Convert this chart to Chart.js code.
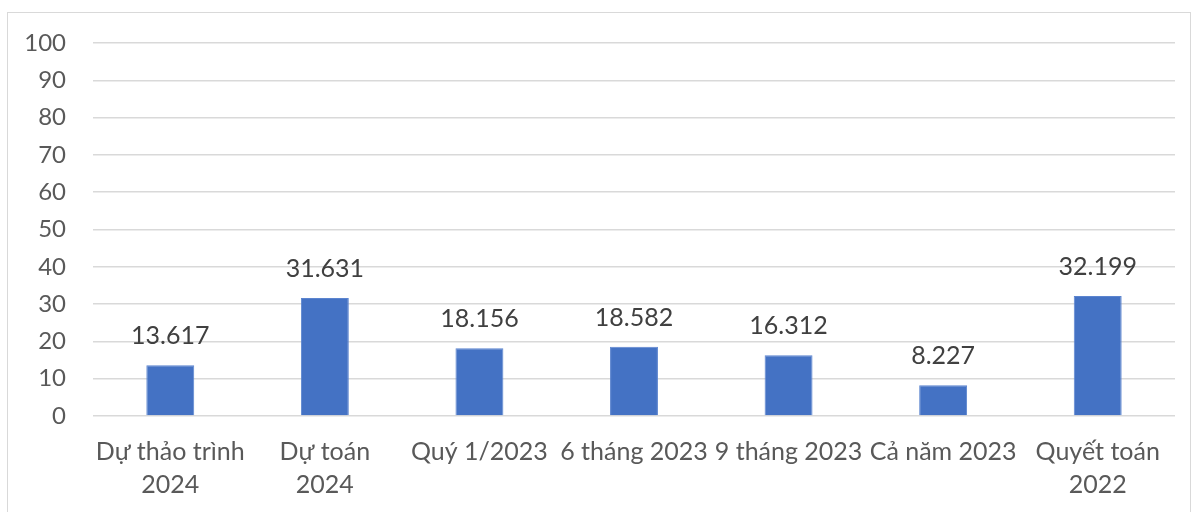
<!DOCTYPE html>
<html><head><meta charset="utf-8">
<script src="https://cdn.jsdelivr.net/npm/chart.js@4.4.0/dist/chart.umd.min.js"></script>
<style>
html,body{margin:0;padding:0;background:#fff;}
#wrap{position:relative;width:1199px;height:512px;}
#frame{position:absolute;left:7px;top:12px;width:1184px;height:520px;border:1px solid #d9d9d9;box-sizing:border-box;pointer-events:none;}
canvas{position:absolute;left:0;top:0;}
</style></head><body>
<div id="wrap"><canvas id="c" width="1199" height="512"></canvas><div id="frame"></div></div>
<script>
const categories = [["Dự thảo trình","2024"],["Dự toán","2024"],"Quý 1/2023","6 tháng 2023","9 tháng 2023","Cả năm 2023",["Quyết toán","2022"]];
const values = [13.617, 31.631, 18.156, 18.582, 16.312, 8.227, 32.199];
const valueLabels = ["13.617","31.631","18.156","18.582","16.312","8.227","32.199"];
const yTicks = [0,10,20,30,40,50,60,70,80,90,100];

const FONT = "Lato, 'Open Sans', sans-serif";

const labelPlugin = {
  id: 'vlabels',
  afterDatasetsDraw(chart){
    const ctx = chart.ctx;
    const meta = chart.getDatasetMeta(0);
    ctx.save();
    ctx.font = "25px " + FONT;
    ctx.fillStyle = "#404040";
    ctx.textAlign = "center";
    ctx.textBaseline = "middle";
    meta.data.forEach((bar,i)=>{
      ctx.fillText(valueLabels[i], bar.x, bar.y - 29);
    });
    ctx.restore();
  }
};

new Chart(document.getElementById('c'), {
  type: 'bar',
  data: { labels: categories, datasets: [{ data: values, backgroundColor: '#4472C4', borderColor:'#5b84cf', borderWidth:1, barPercentage: 0.31, categoryPercentage: 1 }] },
  options: {
    responsive: false, animation: false,
    layout: { padding: { top: 43, right: 24, left: 0, bottom: 0 } },
    plugins: { legend: { display: false }, tooltip: { enabled: false } },
    scales: {
      x: {
        grid: { display: false, drawTicks: false },
        border: { display: false },
        ticks: { autoSkip: false, maxRotation: 0, minRotation: 0, color: '#595959', font: { family: FONT, size: 25, lineHeight: 1.3 }, padding: 20 },
        afterFit(s){ s.height = 96; }
      },
      y: {
        min: 0, max: 100,
        afterBuildTicks(s){ s.ticks = yTicks.map(v=>({value:v})); },
        grid: { color: '#d9d9d9', lineWidth: 1.5, drawTicks: false },
        border: { display: false },
        ticks: { color: '#595959', font: { family: FONT, size: 24 }, padding: 27 },
        afterFit(s){ s.width = 93; }
      }
    }
  },
  plugins: [labelPlugin]
});
</script>
</body></html>
